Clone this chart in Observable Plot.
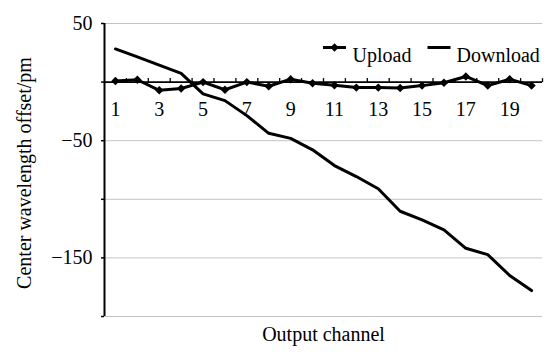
<!DOCTYPE html>
<html><head><meta charset="utf-8">
<script src="https://cdn.jsdelivr.net/npm/d3@7"></script>
<script src="https://cdn.jsdelivr.net/npm/@observablehq/plot@0.6"></script>
<style>body{margin:0;background:#fff}</style>
</head><body><div id="chart"></div>
<script>
const channels = [1,2,3,4,5,6,7,8,9,10,11,12,13,14,15,16,17,18,19,20];
const upload = [1, 2, -7, -5.5, 0, -6.5, 0, -3.5, 2.5, -1, -2.7, -4.7, -4.7, -5, -3, -0.5, 4.8, -3, 2.5, -3];
const download = [28.3, 21.5, 14.5, 7.5, -10, -15.8, -28.6, -43.7, -48, -57.8, -71.2, -80.6, -91, -110.2, -117.6, -126.1, -141.8, -147.2, -165, -177.9];
const xTickLabels = [1,3,5,7,9,11,13,15,17,19];
const yTicks = [50,0,-50,-100,-150,-200];
const yTickLabels = [50,-50,-150];
const gridValues = [50,-50,-100,-150,-200];
const seriesNames = ["Upload","Download"];
const xTitle = "Output channel";
const yTitle = "Center wavelength offset/pm";

const uploadRows = channels.map((c,i)=>({channel:c, value:upload[i]}));
const downloadRows = channels.map((c,i)=>({channel:c, value:download[i]}));
const boundaries = [d3.min(channels)-0.5, ...channels.map(c=>c+0.5)];

const hLine = {draw(ctx){ ctx.moveTo(-11.5,0); ctx.lineTo(11.5,0); }};
const upTick = {draw(ctx){ ctx.moveTo(0,0); ctx.lineTo(0,-4); }};
const fmt = d3.format("d");

const chart = Plot.plot({
  width: 545, height: 352,
  marginLeft: 104, marginRight: 3, marginTop: 23, marginBottom: 36,
  style: {fontFamily: "'Liberation Serif', 'Times New Roman', serif", fontSize: "20px", background: "#fff", color: "#000"},
  x: {domain: [d3.min(channels)-0.5, d3.max(channels)+0.5], axis: null},
  y: {domain: [-200, 50], axis: null},
  marks: [
    Plot.ruleY(gridValues, {stroke: "#c4c4c4", strokeWidth: 1}),
    Plot.ruleY([0], {stroke: "#000", strokeWidth: 1.6}),
    Plot.ruleX([d3.min(channels)-0.5], {stroke: "#000", strokeWidth: 2}),
    Plot.axisY(yTicks, {tickSize: 3, tickPadding: 9, strokeWidth: 1.5, label: null,
      tickFormat: d => yTickLabels.includes(d) ? fmt(d) : "", fontSize: 20}),
    Plot.dot(boundaries.slice(1), {x: d=>d, y: ()=>0, symbol: upTick, r: 3, stroke: "#000", fill: "none", strokeWidth: 1.3}),
    Plot.text(xTickLabels, {x: d=>d, y: ()=>0, dy: 27, text: d=>String(d), fontSize: 20}),
    Plot.line(downloadRows, {x: "channel", y: "value", stroke: "#000", strokeWidth: 3}),
    Plot.line(uploadRows, {x: "channel", y: "value", stroke: "#000", strokeWidth: 3}),
    Plot.dot(uploadRows, {x: "channel", y: "value", symbol: "diamond2", r: 3.8, fill: "#000"}),
    // legend
    Plot.dot([seriesNames[0]], {frameAnchor: "top-right", dx: -208, dy: 24, symbol: hLine, r: 3, stroke: "#000", fill: "none", strokeWidth: 3}),
    Plot.dot([seriesNames[0]], {frameAnchor: "top-right", dx: -208, dy: 24, symbol: "diamond2", r: 3.8, fill: "#000"}),
    Plot.text([seriesNames[0]], {frameAnchor: "top-right", dx: -190, dy: 24, text: d=>d, textAnchor: "start", fontSize: 20}),
    Plot.dot([seriesNames[1]], {frameAnchor: "top-right", dx: -103.5, dy: 24, symbol: hLine, r: 3, stroke: "#000", fill: "none", strokeWidth: 3}),
    Plot.text([seriesNames[1]], {frameAnchor: "top-right", dx: -86, dy: 24, text: d=>d, textAnchor: "start", fontSize: 20}),
    // titles
    Plot.text([yTitle], {frameAnchor: "left", rotate: -90, dx: -80, dy: 3, text: d=>d, textAnchor: "middle", fontSize: 20}),
    Plot.text([xTitle], {frameAnchor: "bottom", dy: 24, text: d=>d, textAnchor: "middle", fontSize: 20})
  ]
});
document.getElementById("chart").appendChild(chart);
</script>
</body></html>
